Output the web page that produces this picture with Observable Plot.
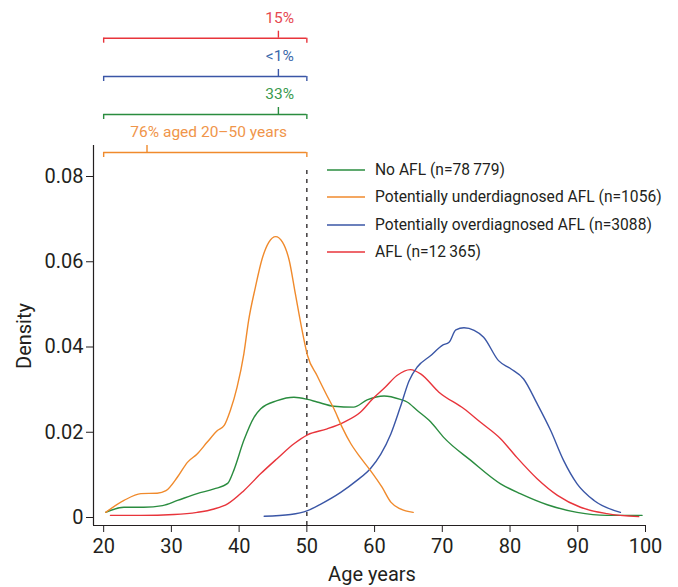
<!DOCTYPE html>
<html><head><meta charset="utf-8">
<script src="https://cdn.jsdelivr.net/npm/d3@7"></script>
<script src="https://cdn.jsdelivr.net/npm/@observablehq/plot@0.6"></script>
<style>
body{margin:0;background:#fff;}
#wrap{position:relative;width:678px;height:587px;font-family:Roboto,sans-serif;}
.legend{position:absolute;left:327px;top:156px;font-size:15.6px;color:#231f20;}
.row{display:flex;align-items:center;height:27.5px;white-space:nowrap;}
.row svg{margin-right:10px;display:block;}
</style></head><body><div id="wrap"></div>
<script>
// ---- data ----
const seriesNames = ["No AFL (n=78\u2009779)", "Potentially underdiagnosed AFL (n=1056)", "Potentially overdiagnosed AFL (n=3088)", "AFL (n=12\u2009365)"];

const noAflAge = [20.3, 23.0, 25.9, 28.7, 30.9, 33.8, 36.3, 38.3, 39.2, 40.7, 42.2, 43.2, 45.6, 48.1, 50.1, 51.5, 54.0, 56.9, 58.9, 61.4, 63.8, 64.8, 66.3, 68.3, 70.2, 74.2, 78.6, 81.5, 85.5, 89.9, 94.3, 99.5];
const noAflDensity = [0.0012, 0.0024, 0.0024, 0.0028, 0.0040, 0.0056, 0.0067, 0.0080, 0.0110, 0.0181, 0.0235, 0.0255, 0.0274, 0.0282, 0.0277, 0.0271, 0.0261, 0.0259, 0.0276, 0.0285, 0.0277, 0.0271, 0.0251, 0.0224, 0.0188, 0.0134, 0.0079, 0.0056, 0.0030, 0.0012, 0.0005, 0.0005];

const underAge = [20.3, 23.0, 25.5, 27.9, 29.2, 30.9, 32.4, 33.8, 35.3, 36.8, 37.8, 38.7, 39.7, 40.7, 41.4, 42.4, 43.4, 44.4, 45.4, 46.4, 47.4, 48.3, 49.3, 50.1, 51.5, 53.0, 54.0, 55.2, 56.5, 57.9, 59.4, 61.1, 62.4, 63.8, 65.7];
const underDensity = [0.0012, 0.0040, 0.0056, 0.0057, 0.0063, 0.0095, 0.0130, 0.0149, 0.0177, 0.0204, 0.0216, 0.0251, 0.0306, 0.0384, 0.0462, 0.0540, 0.0607, 0.0646, 0.0659, 0.0646, 0.0603, 0.0525, 0.0439, 0.0380, 0.0333, 0.0285, 0.0255, 0.0212, 0.0173, 0.0141, 0.0110, 0.0071, 0.0036, 0.0020, 0.0012];

const overAge = [43.7, 47.6, 50.1, 52.0, 55.0, 57.4, 59.4, 60.9, 62.4, 63.8, 65.1, 66.3, 68.3, 70.0, 71.0, 72.0, 73.2, 74.7, 76.1, 78.3, 80.1, 82.0, 84.0, 86.0, 87.9, 89.9, 92.4, 96.3];
const overDensity = [0.0003, 0.0007, 0.0016, 0.0031, 0.0059, 0.0087, 0.0115, 0.0148, 0.0196, 0.0259, 0.0321, 0.0353, 0.0380, 0.0404, 0.0411, 0.0440, 0.0445, 0.0439, 0.0423, 0.0368, 0.0349, 0.0325, 0.0267, 0.0204, 0.0134, 0.0079, 0.0040, 0.0012];

const aflAge = [21.0, 25.5, 30.4, 33.8, 36.3, 38.3, 40.7, 43.2, 45.6, 48.1, 50.1, 53.0, 55.5, 57.9, 59.7, 61.6, 63.3, 65.3, 66.8, 69.5, 73.2, 75.6, 78.6, 81.0, 84.0, 87.0, 90.4, 94.3, 99.0];
const aflDensity = [0.0005, 0.0005, 0.0007, 0.0012, 0.0020, 0.0032, 0.0063, 0.0103, 0.0138, 0.0173, 0.0194, 0.0208, 0.0224, 0.0247, 0.0278, 0.0306, 0.0333, 0.0347, 0.0337, 0.0294, 0.0255, 0.0224, 0.0185, 0.0141, 0.0091, 0.0052, 0.0024, 0.0009, 0.0002];

const xTicks = [20, 30, 40, 50, 60, 70, 80, 90, 100];
const yTicks = [0, 0.02, 0.04, 0.06, 0.08];
const ageRangeStart = 20, ageCut = 50;

// brackets (top to bottom): AFL, overdiagnosed, no AFL, underdiagnosed
const bracketLabels = ["15%", "<1%", "33%", "76% aged 20\u201350 years"];
const bracketSeries = [3, 2, 0, 1];
const bracketTickAge = [45.8, 45.8, 45.8, 26.4];
const bracketLabelAge = [46.0, 46.0, 46.0, 35.5];

// ---- style / layout ----
const colors = ["#2a8c3f", "#f08a2c", "#3a56a6", "#e8343b"];
const textColors = ["#3a9a4e", "#f0954a", "#3a68ab", "#e6484f"];
const ink = "#231f20";
const W = 678, H = 587, mL = 93, mR = 33, mT = 0, mB = 62;
const pxPerUnit = 4262.5;            // vertical pixels per density unit
const yZeroPx = 517;
const yDom = [(yZeroPx - (H - mB)) / pxPerUnit, yZeroPx / pxPerUnit];
const xDom = [18.5, 100];
const py = p => (yZeroPx - p) / pxPerUnit;   // pixel row -> density
const bracketRowPx = [37.7, 76, 114, 152];
const yAxisTopPx = 145, dashTopPx = 166;

const series = [
  [noAflAge, noAflDensity], [underAge, underDensity], [overAge, overDensity], [aflAge, aflDensity]
].flatMap(([a, d], s) => a.map((x, i) => ({age: x, density: d[i], s})));

const brackets = bracketLabels.map((label, i) => ({
  label, s: bracketSeries[i], tick: bracketTickAge[i], lab: bracketLabelAge[i],
  lvl: py(bracketRowPx[i])
}));
const down = 5 / pxPerUnit, up = 7 / pxPerUnit, labOff = 20 / pxPerUnit;

const marks = [
  // axes lines
  Plot.ruleY([yDom[0]], {x1: xDom[0], x2: 100, stroke: ink, strokeWidth: 1.2}),
  Plot.ruleX([xDom[0]], {y1: yDom[0], y2: py(yAxisTopPx), stroke: ink, strokeWidth: 1.2}),
  Plot.axisY({ticks: yTicks, tickSize: 7, tickPadding: 3, tickFormat: d => d === 0 ? "0" : d.toFixed(2), label: null, fontSize: 20, stroke: ink, fill: ink}),
  Plot.axisX({ticks: xTicks, tickSize: 7, tickPadding: 6, label: null, fontSize: 20, stroke: ink, fill: ink}),
  // cutoff
  Plot.ruleX([ageCut], {y1: yDom[0], y2: py(dashTopPx), stroke: ink, strokeWidth: 1.3, strokeDasharray: "4,5"}),
  // curves
  ...[0, 3, 2, 1].map(s => Plot.line(series.filter(d => d.s === s), {x: "age", y: "density", stroke: colors[s], strokeWidth: 1.4, curve: "monotone-x"})),
  // brackets
  Plot.ruleY(brackets, {y: "lvl", x1: ageRangeStart, x2: ageCut, stroke: d => colors[d.s], strokeWidth: 1.4}),
  Plot.ruleX(brackets, {x: ageRangeStart, y1: "lvl", y2: d => d.lvl - down, stroke: d => colors[d.s], strokeWidth: 1.4}),
  Plot.ruleX(brackets, {x: ageCut, y1: "lvl", y2: d => d.lvl - down, stroke: d => colors[d.s], strokeWidth: 1.4}),
  Plot.ruleX(brackets, {x: "tick", y1: "lvl", y2: d => d.lvl + up, stroke: d => colors[d.s], strokeWidth: 1.4}),
  Plot.text(brackets, {x: "lab", y: d => d.lvl + labOff, text: "label", fill: d => textColors[d.s], fontSize: 15.5})
];

const plot = Plot.plot({
  width: W, height: H, marginLeft: mL, marginRight: mR, marginTop: mT, marginBottom: mB,
  x: {domain: xDom}, y: {domain: yDom},
  style: {fontFamily: "Roboto, sans-serif", color: ink, background: "#fff", overflow: "visible"},
  marks
});
const wrap = document.getElementById("wrap");
wrap.appendChild(plot);

// axis titles
const svg = d3.select(plot);
svg.append("text").attr("transform", "translate(31,336) rotate(-90)").attr("text-anchor", "middle")
  .attr("font-size", 20).attr("fill", ink).attr("font-family", "Roboto, sans-serif").text("Density");
svg.append("text").attr("x", 372).attr("y", 581).attr("text-anchor", "middle")
  .attr("font-size", 20).attr("fill", ink).attr("font-family", "Roboto, sans-serif").text("Age years");

// legend
const leg = d3.select(wrap).append("div").attr("class", "legend");
seriesNames.forEach((n, i) => {
  const r = leg.append("div").attr("class", "row");
  const s = r.append("svg").attr("width", 38).attr("height", 4);
  s.append("line").attr("x1", 0).attr("x2", 38).attr("y1", 2).attr("y2", 2)
    .attr("stroke", colors[i]).attr("stroke-width", 1.6);
  r.append("span").text(n);
});
</script></body></html>
